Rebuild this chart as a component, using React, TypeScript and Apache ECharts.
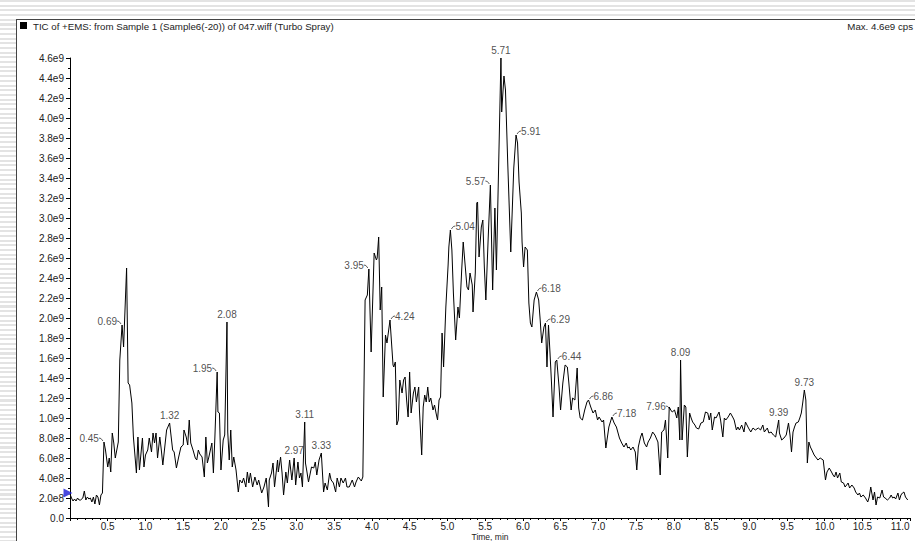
import React, { useEffect, useRef } from "react";
import * as echarts from "echarts";

// TIC chromatogram: [time (min), intensity (×1e9 cps)]
const chromatogram: [number, number][] = [
  [0.0, 0.24], [0.02, 0.2], [0.04, 0.17], [0.06, 0.19], [0.08, 0.17], [0.1, 0.2], [0.12, 0.18], [0.14, 0.18],
  [0.17, 0.2], [0.19, 0.27], [0.21, 0.18], [0.23, 0.21], [0.25, 0.19], [0.27, 0.2], [0.29, 0.16], [0.31, 0.21],
  [0.33, 0.14], [0.35, 0.23], [0.37, 0.21], [0.39, 0.13], [0.41, 0.23], [0.43, 0.25],
  [0.45, 0.76], [0.47, 0.68], [0.5, 0.51], [0.52, 0.6], [0.54, 0.46], [0.56, 0.85], [0.58, 0.75], [0.6, 0.6],
  [0.64, 0.76], [0.66, 1.58], [0.69, 1.93], [0.71, 1.71], [0.75, 2.5], [0.77, 1.35], [0.79, 1.33], [0.82, 1.15],
  [0.84, 0.81], [0.88, 0.45], [0.9, 0.81], [0.92, 0.48], [0.96, 0.8], [0.98, 0.51], [1.0, 0.63], [1.03, 0.68],
  [1.05, 0.8], [1.08, 0.66], [1.1, 0.85], [1.12, 0.75], [1.14, 0.85], [1.16, 0.6], [1.19, 0.81], [1.21, 0.68],
  [1.23, 0.53], [1.28, 0.88], [1.32, 0.95], [1.36, 0.68], [1.38, 0.66], [1.41, 0.5], [1.44, 0.61], [1.47, 0.71],
  [1.5, 0.73], [1.51, 0.88], [1.54, 0.81], [1.56, 0.73], [1.58, 0.98], [1.6, 0.75], [1.63, 0.68], [1.66, 0.6],
  [1.68, 0.58], [1.7, 0.68], [1.72, 0.64], [1.75, 0.61], [1.78, 0.41], [1.8, 0.81], [1.82, 0.55], [1.84, 0.61],
  [1.88, 0.75], [1.9, 0.45], [1.92, 0.81], [1.95, 1.46], [1.96, 1.06], [1.98, 1.05], [2.0, 0.48], [2.03, 0.78],
  [2.05, 0.83], [2.08, 1.96], [2.09, 0.86], [2.11, 0.58], [2.13, 0.88], [2.15, 0.51], [2.17, 0.61], [2.2, 0.48],
  [2.23, 0.26], [2.25, 0.38], [2.28, 0.35], [2.3, 0.4], [2.33, 0.31], [2.35, 0.46], [2.37, 0.35], [2.39, 0.45],
  [2.42, 0.31], [2.45, 0.41], [2.48, 0.33], [2.5, 0.38], [2.54, 0.25], [2.57, 0.31], [2.6, 0.4], [2.63, 0.11],
  [2.64, 0.38], [2.67, 0.45], [2.69, 0.55], [2.71, 0.31], [2.75, 0.58], [2.76, 0.46], [2.79, 0.61], [2.81, 0.45],
  [2.83, 0.23], [2.86, 0.46], [2.88, 0.35], [2.91, 0.58], [2.94, 0.38], [2.97, 0.6], [2.99, 0.33], [3.02, 0.56],
  [3.04, 0.4], [3.06, 0.45], [3.08, 0.31], [3.11, 0.96], [3.12, 0.55], [3.14, 0.46], [3.16, 0.36], [3.2, 0.51],
  [3.23, 0.5], [3.25, 0.56], [3.27, 0.43], [3.3, 0.58], [3.33, 0.65], [3.36, 0.26], [3.38, 0.35], [3.41, 0.28],
  [3.44, 0.45], [3.46, 0.38], [3.49, 0.35], [3.52, 0.26], [3.54, 0.4], [3.57, 0.31], [3.59, 0.4], [3.62, 0.35],
  [3.65, 0.4], [3.67, 0.31], [3.7, 0.31], [3.74, 0.38], [3.77, 0.31], [3.79, 0.36], [3.82, 0.41], [3.86, 0.37],
  [3.88, 0.41], [3.91, 2.18], [3.94, 2.23], [3.96, 2.49], [3.99, 1.66], [4.03, 2.65], [4.06, 2.58], [4.07, 2.6],
  [4.09, 2.81], [4.11, 2.08], [4.13, 2.31], [4.15, 1.21], [4.18, 1.83], [4.2, 1.75], [4.24, 1.98], [4.28, 1.53],
  [4.29, 1.51], [4.31, 1.56], [4.33, 0.93], [4.35, 0.98], [4.37, 1.38], [4.4, 1.25], [4.42, 1.38], [4.44, 1.41],
  [4.46, 1.18], [4.48, 1.01], [4.5, 1.46], [4.52, 1.05], [4.55, 1.25], [4.57, 1.31], [4.59, 1.16], [4.62, 1.31],
  [4.63, 1.08], [4.66, 0.63], [4.68, 1.11], [4.7, 1.23], [4.72, 1.16], [4.74, 1.31], [4.76, 1.16], [4.78, 1.2],
  [4.81, 1.08], [4.83, 1.13], [4.85, 1.05], [4.87, 0.98], [4.89, 1.18], [4.91, 1.21], [4.93, 1.85], [4.95, 1.51],
  [4.98, 2.11], [5.01, 2.53], [5.02, 2.71], [5.04, 2.88], [5.06, 2.68], [5.08, 2.25], [5.11, 1.78], [5.14, 2.11],
  [5.16, 2.0], [5.19, 2.48], [5.21, 2.76], [5.23, 2.58], [5.26, 2.31], [5.28, 2.28], [5.3, 2.45], [5.33, 2.33],
  [5.34, 2.06], [5.37, 2.45], [5.39, 3.15], [5.4, 3.16], [5.42, 2.61], [5.45, 2.91], [5.47, 2.98], [5.49, 2.51],
  [5.51, 2.18], [5.54, 2.78], [5.57, 3.33], [5.6, 2.28], [5.63, 3.1], [5.65, 2.48], [5.71, 4.6], [5.72, 4.06],
  [5.75, 4.42], [5.77, 4.28], [5.8, 3.55], [5.84, 2.66], [5.88, 3.5], [5.91, 3.83], [5.93, 3.75], [5.95, 3.36],
  [5.98, 3.05], [5.99, 2.76], [6.01, 2.51], [6.03, 2.71], [6.06, 2.68], [6.08, 2.15], [6.1, 1.95], [6.12, 1.91],
  [6.15, 2.18], [6.18, 2.26], [6.21, 2.18], [6.23, 1.98], [6.25, 1.75], [6.28, 1.91], [6.3, 1.95], [6.32, 1.51],
  [6.34, 1.93], [6.36, 1.65], [6.38, 1.35], [6.4, 1.01], [6.43, 1.56], [6.45, 1.58], [6.48, 1.31], [6.5, 1.08],
  [6.53, 1.35], [6.56, 1.53], [6.59, 1.51], [6.61, 1.35], [6.64, 1.08], [6.66, 1.2], [6.69, 1.18], [6.72, 1.5],
  [6.74, 1.1], [6.76, 1.0], [6.79, 0.98], [6.82, 1.08], [6.85, 1.16], [6.87, 1.18], [6.9, 1.11], [6.93, 1.05],
  [6.96, 1.08], [6.99, 0.98], [7.01, 1.01], [7.05, 0.96], [7.07, 0.98], [7.1, 0.7], [7.14, 0.91], [7.18, 1.01],
  [7.21, 0.95], [7.24, 0.91], [7.28, 0.8], [7.31, 0.75], [7.34, 0.71], [7.37, 0.75], [7.39, 0.7], [7.41, 0.71],
  [7.43, 0.68], [7.46, 0.71], [7.49, 0.66], [7.51, 0.48], [7.53, 0.71], [7.56, 0.81], [7.58, 0.85], [7.61, 0.75],
  [7.64, 0.71], [7.66, 0.76], [7.69, 0.8], [7.72, 0.86], [7.75, 0.83], [7.79, 0.76], [7.82, 0.43], [7.84, 0.86],
  [7.87, 0.88], [7.89, 0.98], [7.92, 0.6], [7.94, 1.11], [7.96, 1.08], [7.98, 1.06], [8.01, 1.08], [8.04, 1.0],
  [8.06, 1.11], [8.08, 0.78], [8.09, 1.58], [8.11, 0.78], [8.14, 1.13], [8.16, 1.11], [8.18, 0.61], [8.21, 1.05],
  [8.23, 1.0], [8.25, 0.96], [8.28, 0.93], [8.3, 0.9], [8.33, 0.89], [8.36, 0.95], [8.39, 0.96], [8.42, 1.06],
  [8.45, 1.05], [8.47, 0.98], [8.49, 1.05], [8.51, 0.88], [8.54, 1.01], [8.56, 1.0], [8.58, 1.03], [8.6, 1.06],
  [8.62, 0.98], [8.65, 0.81], [8.67, 1.0], [8.69, 0.98], [8.72, 1.01], [8.75, 1.05], [8.78, 1.01], [8.8, 0.98],
  [8.83, 0.88], [8.85, 0.91], [8.87, 0.88], [8.9, 0.93], [8.93, 0.86], [8.95, 0.96], [8.99, 0.9], [9.02, 0.86],
  [9.05, 0.9], [9.08, 0.88], [9.12, 0.9], [9.15, 0.88], [9.18, 0.93], [9.2, 0.86], [9.24, 0.9], [9.26, 0.85],
  [9.29, 0.86], [9.32, 0.83], [9.35, 0.81], [9.39, 0.98], [9.4, 0.85], [9.43, 0.78], [9.46, 0.8], [9.49, 0.83],
  [9.52, 0.95], [9.54, 0.83], [9.56, 0.66], [9.58, 0.86], [9.6, 0.91], [9.62, 0.95], [9.65, 0.96], [9.67, 1.0],
  [9.69, 1.05], [9.71, 1.16], [9.73, 1.28], [9.75, 1.18], [9.77, 0.55], [9.79, 0.76], [9.81, 0.71], [9.83, 0.68],
  [9.86, 0.63], [9.89, 0.6], [9.91, 0.58], [9.94, 0.6], [9.98, 0.58], [10.01, 0.38], [10.03, 0.46], [10.06, 0.5],
  [10.09, 0.46], [10.11, 0.43], [10.13, 0.41], [10.15, 0.46], [10.17, 0.4], [10.2, 0.45], [10.22, 0.36], [10.25, 0.35],
  [10.27, 0.31], [10.31, 0.35], [10.33, 0.3], [10.36, 0.33], [10.39, 0.3], [10.41, 0.26], [10.44, 0.23], [10.46, 0.25],
  [10.48, 0.21], [10.51, 0.23], [10.54, 0.2], [10.57, 0.16], [10.59, 0.21], [10.61, 0.31], [10.64, 0.18], [10.66, 0.26],
  [10.68, 0.13], [10.7, 0.21], [10.73, 0.2], [10.76, 0.28], [10.78, 0.21], [10.8, 0.2], [10.83, 0.18], [10.86, 0.2],
  [10.88, 0.23], [10.9, 0.2], [10.92, 0.21], [10.94, 0.19], [10.97, 0.25], [10.99, 0.18], [11.01, 0.23], [11.03, 0.25],
  [11.05, 0.26], [11.07, 0.21], [11.1, 0.18],
];

// Peak annotations
const peakLabels = ["0.45", "0.69", "1.32", "1.95", "2.08", "2.97", "3.11", "3.33", "3.95", "4.24", "5.04", "5.57",
  "5.71", "5.91", "6.18", "6.29", "6.44", "6.86", "7.18", "7.96", "8.09", "9.39", "9.73"];
const peakTimes = [0.45, 0.69, 1.32, 1.95, 2.08, 2.97, 3.11, 3.33, 3.96, 4.24, 5.04, 5.57,
  5.71, 5.91, 6.18, 6.3, 6.45, 6.87, 7.18, 7.96, 8.09, 9.39, 9.73];
const peakValues = [0.76, 1.93, 0.95, 1.46, 1.96, 0.6, 0.96, 0.65, 2.49, 1.98, 2.88, 3.33,
  4.6, 3.83, 2.26, 1.95, 1.58, 1.18, 1.01, 1.08, 1.58, 0.98, 1.28];
const peakSides = ["left", "left", "top", "left", "top", "top", "top", "top", "left", "right", "right", "left",
  "top", "right", "right", "right", "right", "right", "right", "left", "top", "top", "top"];

// Start marker (blue triangle on the y axis)
const startMarker: [number, number][] = [[0, 0.25]];

const title = "TIC of +EMS: from Sample 1 (Sample6(-20)) of 047.wiff (Turbo Spray)";
const maxText = "Max. 4.6e9 cps";
const xAxisName = "Time, min";

const FONT = "'Liberation Sans', Arial, sans-serif";

function fmtY(v: number): string {
  if (v === 0) return "0.0";
  if (v >= 1 - 1e-9) return v.toFixed(1) + "e9";
  return (v * 10).toFixed(1) + "e8";
}

export default function App() {
  const ref = useRef<HTMLDivElement>(null);

  useEffect(() => {
    document.body.style.margin = "0";
    if (!ref.current) return;
    const chart = echarts.init(ref.current, null, { renderer: "svg" });

    const peakData = peakTimes.map((t, i) => {
      const side = peakSides[i];
      return {
        value: [t, peakValues[i], i],
        name: peakLabels[i],
        label:
          side === "top"
            ? { position: "top", distance: 2 }
            : { position: side, distance: 5, offset: [0, -4] },
      };
    });

    chart.setOption({
      animation: false,
      backgroundColor: "transparent",
      textStyle: { fontFamily: FONT },
      grid: { left: 70, right: 5, top: 58, bottom: 23, containLabel: false, outerBoundsMode: "none" },
      xAxis: {
        type: "value",
        min: 0,
        max: 11.13,
        interval: 0.5,
        name: xAxisName,
        nameLocation: "middle",
        nameGap: 14,
        nameMoveOverlap: false,
        nameTextStyle: { fontSize: 8.5, color: "#222", fontFamily: FONT, lineHeight: 9 },
        axisLine: { show: true, lineStyle: { color: "#000", width: 1 } },
        axisTick: { show: true, length: 3, lineStyle: { color: "#000" } },
        minorTick: { show: true, splitNumber: 5, length: 2, lineStyle: { color: "#000" } },
        splitLine: { show: false },
        axisLabel: {
          fontSize: 10,
          lineHeight: 10,
          color: "#222",
          margin: 3,
          fontFamily: FONT,
          showMaxLabel: false,
          formatter: (v: number) => (v === 0 ? "" : v.toFixed(1)),
        },
      },
      yAxis: {
        type: "value",
        min: 0,
        max: 4.6,
        interval: 0.2,
        axisLine: { show: true, lineStyle: { color: "#000", width: 1 } },
        axisTick: { show: true, length: 4, lineStyle: { color: "#000" } },
        minorTick: { show: true, splitNumber: 2, length: 2, lineStyle: { color: "#000" } },
        splitLine: { show: false },
        axisLabel: {
          fontSize: 10,
          color: "#222",
          margin: 6,
          fontFamily: FONT,
          formatter: (v: number) => fmtY(v),
        },
      },
      graphic: [
        { type: "rect", left: 20, top: 22, shape: { width: 7, height: 7 }, style: { fill: "#000" } },
        {
          type: "text",
          left: 33,
          top: 21,
          style: { text: title, fontSize: 9.7, fill: "#222", fontFamily: FONT },
        },
        {
          type: "text",
          right: 2,
          top: 21,
          style: { text: maxText, fontSize: 9.7, fill: "#222", fontFamily: FONT },
        },
      ],
      series: [
        {
          type: "line",
          data: chromatogram,
          showSymbol: false,
          symbol: "none",
          lineStyle: { color: "#000", width: 1 },
          silent: true,
        },
        {
          type: "scatter",
          data: peakData,
          symbolSize: 0.1,
          itemStyle: { color: "transparent" },
          label: {
            show: true,
            formatter: (p: any) => p.name,
            fontSize: 10,
            color: "#222",
            fontFamily: FONT,
          },
          silent: true,
        },
        {
          // small connector ticks from side labels to their peaks
          type: "custom",
          data: peakTimes.map((t, i) => [t, peakValues[i], i]),
          renderItem: (params: any, api: any) => {
            const idx = api.value(2);
            const side = peakSides[idx];
            if (side === "top") return null;
            const p = api.coord([api.value(0), api.value(1)]);
            const dir = side === "left" ? -1 : 1;
            return {
              type: "polyline",
              shape: {
                points: [
                  [p[0] + dir * 5, p[1] - 4],
                  [p[0] + dir * 3, p[1] - 3.5],
                  [p[0] + dir * 1, p[1] - 1],
                ],
              },
              style: { stroke: "#333", lineWidth: 0.8, fill: "none" },
            };
          },
          silent: true,
        },
        {
          type: "scatter",
          data: startMarker,
          symbol: "triangle",
          symbolRotate: -90,
          symbolSize: 9,
          symbolOffset: [-2, 0],
          itemStyle: { color: "#1a1ad6" },
          clip: false,
          silent: true,
        },
      ],
    });
    return () => chart.dispose();
  }, []);

  return (
    <div
      style={{
        position: "relative",
        width: 915,
        height: 541,
        overflow: "hidden",
        background:
          "repeating-linear-gradient(to bottom, #e3e3e3 0px, #e3e3e3 2px, #ffffff 2px, #ffffff 4.7px)",
      }}
    >
      <div
        style={{
          position: "absolute",
          left: 16,
          top: 19,
          width: 915 - 16,
          height: 541 - 19,
          background: "#fff",
          borderLeft: "1px solid #444",
          borderTop: "1px solid #444",
          boxSizing: "border-box",
        }}
      />
      <div ref={ref} style={{ position: "absolute", left: 0, top: 0, width: 915, height: 541 }} />
    </div>
  );
}
